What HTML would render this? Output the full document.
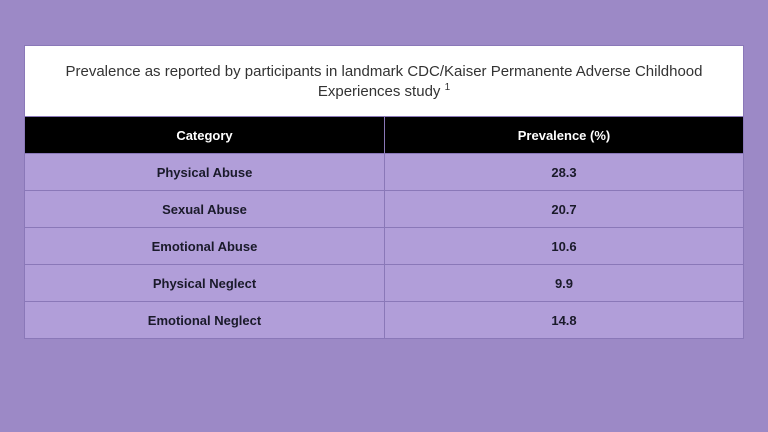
<!DOCTYPE html>
<html><head><style>
body{margin:0;width:768px;height:432px;background:#9c89c6;font-family:"Liberation Sans",sans-serif;position:relative;overflow:hidden}
.t{position:absolute;left:24px;top:45px;width:720px;height:71px;background:#fff;box-sizing:border-box;border:1px solid #8a78b8;border-bottom:none;text-align:center;color:#333;font-size:15px;line-height:20px;padding-top:16px}
.t sup{font-size:10px;vertical-align:6px;line-height:0}
table{position:absolute;left:24px;top:116px;width:720px;border-collapse:collapse;table-layout:fixed}
td,th{height:36px;padding:0;text-align:center;font-size:13px;font-weight:bold;border:1px solid #8a78b8}
th{background:#000;color:#fff;height:36px}
td{background:#b19ed9;color:#1a1a2a}
</style></head><body>
<div class="t">Prevalence as reported by participants in landmark CDC/Kaiser Permanente Adverse Childhood<br>Experiences study <sup>1</sup></div>
<table>
<tr><th style="width:359px">Category</th><th>Prevalence (%)</th></tr>
<tr><td>Physical Abuse</td><td>28.3</td></tr>
<tr><td>Sexual Abuse</td><td>20.7</td></tr>
<tr><td>Emotional Abuse</td><td>10.6</td></tr>
<tr><td>Physical Neglect</td><td>9.9</td></tr>
<tr><td>Emotional Neglect</td><td>14.8</td></tr>
</table>
</body></html>
